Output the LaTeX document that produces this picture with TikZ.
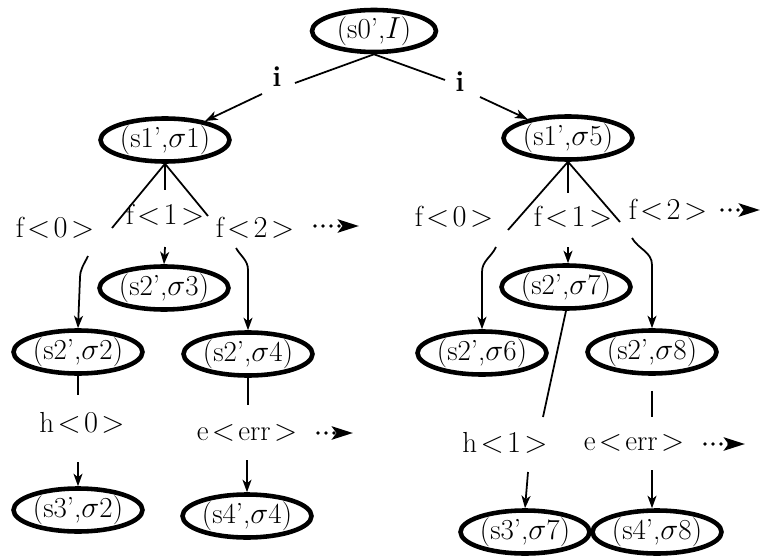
\documentclass[tikz,border=0pt]{standalone}
\usetikzlibrary{shapes.geometric,arrows.meta}
\newcommand{\lt}{\mkern2mu{<}\mkern2mu}
\newcommand{\gtr}{\mkern2mu{>}}
\begin{document}
\begin{tikzpicture}[x=0.02cm,y=-0.02cm,
  every node/.style={font=\fontsize{16.5}{20}\selectfont},
  st/.style={ellipse,draw,line width=2.6pt,minimum width=2.58cm,minimum height=0.86cm,inner sep=0pt},
  lbl/.style={inner sep=0pt},
  ed/.style={line width=1pt},
  arr/.style={ed,-{Stealth[length=0.25cm,width=0.18cm,inset=0.07cm]}},
  more/.style={line width=2.2pt,dash pattern=on 0pt off 0.16cm,line cap=round,
     -{Stealth[length=0.42cm,width=0.26cm,inset=0.09cm,line cap=butt]}}]
\useasboundingbox (0,0) rectangle (760,557);
% states
\node[st,minimum width=2.48cm,minimum height=0.84cm] (s0) at (374,31) {(s0',$I$)};
\node[st] (s1a) at (165,140) {(s1',$\sigma$1)};
\node[st] (s1b) at (568,138) {(s1',$\sigma$5)};
\node[st] (s2a) at (164,288) {(s2',$\sigma$3)};
\node[st] (s2b) at (78,352) {(s2',$\sigma$2)};
\node[st] (s2c) at (248,354) {(s2',$\sigma$4)};
\node[st] (s2d) at (566,287) {(s2',$\sigma$7)};
\node[st] (s2e) at (482,353) {(s2',$\sigma$6)};
\node[st] (s2f) at (652,352) {(s2',$\sigma$8)};
\node[st] (s3a) at (78,510) {(s3',$\sigma$2)};
\node[st] (s4a) at (247,516) {(s4',$\sigma$4)};
\node[st] (s3b) at (525,532) {(s3',$\sigma$7)};
\node[st] (s4b) at (657,532) {(s4',$\sigma$8)};
% labels
\node[lbl] (il) at (277,77) {\textbf{i}};
\node[lbl] (ir) at (460,82) {\textbf{i}};
\node[lbl] (fa0) at (55,228) {f$\lt 0\gtr$};
\node[lbl] (fa1) at (165,215) {f$\lt 1\gtr$};
\node[lbl] (fa2) at (255,228) {f$\lt 2\gtr$};
\node[lbl] (fb0) at (454,217) {f$\lt 0\gtr$};
\node[lbl] (fb1) at (573,217) {f$\lt 1\gtr$};
\node[lbl] (fb2) at (668,210) {f$\lt 2\gtr$};
\node[lbl] (h0) at (82,423) {h$\lt 0\gtr$};
\node[lbl] (ea) at (247,433) {e$\lt$err$\gtr$};
\node[lbl] (h1) at (505,443) {h$\lt 1\gtr$};
\node[lbl] (eb) at (634,443) {e$\lt$err$\gtr$};
% break points
\coordinate (ia1) at (295,83);  \coordinate (ia2) at (262,94);
\coordinate (ib1) at (445,80);  \coordinate (ib2) at (480,97);
\coordinate (c1) at (112,228);  \coordinate (c2) at (88,256);  \coordinate (c3) at (80,278);
\coordinate (c4) at (165,190);  \coordinate (c5) at (165,247);
\coordinate (c6) at (208,216);  \coordinate (c7) at (236,248); \coordinate (c8) at (248,270);
\coordinate (d1) at (508,230);  \coordinate (d2) at (496,247); \coordinate (d3) at (482,272);
\coordinate (d4) at (568,193);  \coordinate (d5) at (568,247);
\coordinate (d6) at (620,222);  \coordinate (d7) at (632,238); \coordinate (d8) at (652,265);
\coordinate (e1) at (78,395);   \coordinate (e2) at (78,462);
\coordinate (e3) at (248,405);  \coordinate (e4) at (247,460);
\coordinate (g1) at (543,417);  \coordinate (g2) at (528,472);
\coordinate (g4) at (652,417);  \coordinate (g5) at (652,470);
\coordinate (m1s) at (315,226); \coordinate (m1e) at (359,226);
\coordinate (m2s) at (722,210); \coordinate (m2e) at (760,210);
\coordinate (m3s) at (318,433); \coordinate (m3e) at (353,433);
\coordinate (m4s) at (705,444); \coordinate (m4e) at (745,444);
% edges
\draw[ed] (s0.south) -- (ia1);
\draw[arr] (ia2) -- (s1a);
\draw[ed] (s0.south) -- (ib1);
\draw[arr] (ib2) -- (s1b);
\draw[ed] (s1a.south) -- (c1);
\draw[arr] (c2) to[out=-115,in=90] (c3) -- (s2b.north);
\draw[ed] (s1a.south) -- (c4);
\draw[arr] (c5) -- (s2a.north);
\draw[ed] (s1a.south) -- (c6);
\draw[arr] (c7) to[out=-60,in=90] (c8) -- (s2c.north);
\draw[ed] (s1b.south) -- (d1);
\draw[arr] (d2) to[out=-115,in=90] (d3) -- (s2e.north);
\draw[ed] (s1b.south) -- (d4);
\draw[arr] (d5) -- (d5 |- s2d.north);
\draw[ed] (s1b.south) -- (d6);
\draw[arr] (d7) to[out=-60,in=90] (d8) -- (s2f.north);
\draw[ed] (s2b.south) -- (e1);
\draw[arr] (e2) -- (s3a.north);
\draw[ed] (s2c.south) -- (e3);
\draw[arr] (e4) -- (s4a.north);
\draw[ed] (s2d.south) -- (g1);
\draw[arr] (g2) -- (s3b.north);
\draw[ed,shorten <=0.3cm] (s2f.south) -- (g4);
\draw[arr] (g5) -- (g5 |- s4b.north);
% continuation marks
\draw[more] (m1s) -- (m1e);
\draw[more] (m2s) -- (m2e);
\draw[more] (m3s) -- (m3e);
\draw[more] (m4s) -- (m4e);
\end{tikzpicture}
\end{document}
